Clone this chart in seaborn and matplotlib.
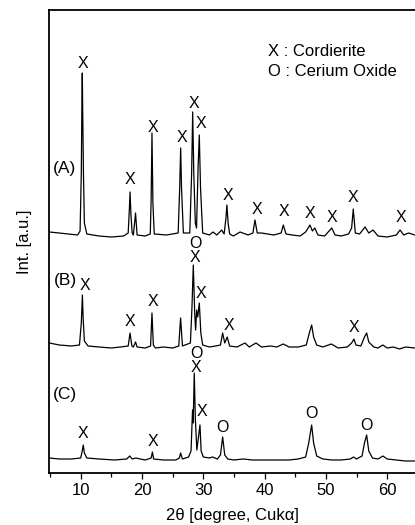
import matplotlib
matplotlib.use('Agg')
import matplotlib.pyplot as plt
from matplotlib.ticker import MultipleLocator
import pandas as pd
import seaborn as sns

# XRD traces: (2 theta in degree, intensity in a.u.)
# the three samples are already stacked with their offsets
pattern_a = [(4.9, 241), (6.5, 240), (8.0, 239), (9.5, 238), (9.9, 242), (10.1, 300),
             (10.2, 370), (10.26, 400), (10.33, 360), (10.45, 300), (10.6, 250), (11.0, 239),
             (13.0, 237), (15.0, 236), (17.0, 237), (17.75, 240), (17.95, 265), (18.05, 281),
             (18.2, 258), (18.4, 240), (18.6, 238), (18.95, 260), (19.2, 238), (20.5, 237),
             (21.35, 239), (21.5, 275), (21.63, 340), (21.78, 270), (22.0, 239), (24.0, 238),
             (25.9, 240), (26.15, 285), (26.31, 325), (26.45, 285), (26.75, 240), (27.8, 240),
             (28.1, 300), (28.27, 361), (28.45, 300), (28.7, 250), (28.9, 245), (29.15, 305),
             (29.35, 338), (29.55, 285), (29.9, 240), (31.0, 238), (31.6, 241), (32.2, 238),
             (33.0, 243), (33.4, 239), (33.7, 255), (33.85, 268), (34.05, 250), (34.3, 239),
             (34.9, 237), (36.0, 241), (37.3, 238), (38.1, 240), (38.43, 253), (38.8, 240),
             (39.5, 240), (40.5, 239), (41.5, 238), (42.7, 240), (43.05, 248), (43.5, 239),
             (44.5, 238), (45.8, 237), (46.7, 241), (47.4, 248), (47.8, 242), (48.2, 245),
             (48.7, 238), (49.8, 237), (50.95, 245), (51.5, 238), (52.5, 237), (53.7, 239),
             (54.2, 245), (54.47, 264), (54.8, 240), (55.5, 239), (56.4, 246), (57.0, 240),
             (57.7, 243), (58.5, 237), (60.0, 236), (61.5, 238), (62.1, 243), (62.7, 238),
             (63.5, 240), (64.5, 238)]

pattern_b = [(4.9, 130), (6.5, 128), (8.5, 127), (9.8, 128), (10.1, 150), (10.28, 178),
             (10.4, 155), (10.6, 132), (11.2, 127), (13.0, 126), (15.0, 125), (16.5, 126),
             (17.75, 127), (18.05, 140), (18.35, 127), (18.6, 126), (18.95, 131), (19.2, 126),
             (20.5, 125), (21.4, 127), (21.63, 160), (21.85, 128), (22.2, 125), (23.5, 126),
             (25.0, 125), (26.0, 127), (26.3, 155), (26.6, 127), (27.9, 130), (28.15, 165),
             (28.37, 208), (28.6, 160), (28.75, 143), (28.92, 163), (29.1, 156), (29.35, 170),
             (29.6, 140), (29.9, 128), (31.0, 126), (32.0, 127), (32.8, 128), (33.16, 140),
             (33.5, 130), (33.9, 136), (34.3, 127), (35.5, 126), (36.8, 130), (37.5, 126),
             (38.6, 130), (39.5, 126), (41.0, 127), (42.0, 126), (43.05, 129), (44.0, 126),
             (45.5, 126), (46.8, 128), (47.3, 140), (47.68, 148), (48.0, 136), (48.5, 128),
             (49.5, 126), (50.9, 129), (52.0, 125), (53.5, 126), (54.2, 130), (54.58, 134),
             (54.9, 128), (55.7, 127), (56.3, 136), (56.65, 140), (57.0, 131), (57.8, 126),
             (58.5, 125), (59.3, 128), (60.0, 125), (61.0, 126), (62.0, 124), (63.0, 126),
             (64.5, 125)]

pattern_c = [(4.9, 15), (6.5, 14), (8.5, 14), (10.0, 15), (10.25, 22), (10.42, 28),
             (10.6, 20), (11.0, 15), (13.0, 14), (15.5, 13), (17.5, 14), (18.0, 17),
             (18.4, 14), (19.0, 15), (20.5, 13), (21.5, 15), (21.7, 21), (21.9, 14),
             (23.5, 13), (25.5, 13), (26.1, 15), (26.3, 20), (26.6, 14), (27.6, 16),
             (28.0, 22), (28.25, 63), (28.35, 50), (28.53, 100), (28.7, 55), (28.95, 23),
             (29.2, 35), (29.46, 48), (29.65, 22), (30.0, 16), (31.0, 15), (31.5, 16),
             (32.3, 14), (32.8, 18), (33.16, 36), (33.5, 18), (34.0, 14), (35.0, 13),
             (36.5, 14), (38.0, 13), (40.0, 13), (42.5, 13), (44.0, 13), (45.5, 14),
             (46.7, 16), (47.2, 30), (47.68, 48), (48.0, 30), (48.5, 17), (49.5, 14),
             (51.0, 13), (52.5, 13), (54.0, 14), (54.5, 16), (55.0, 14), (55.9, 17),
             (56.3, 30), (56.65, 38), (57.0, 22), (57.6, 15), (58.5, 14), (59.3, 17),
             (60.0, 14), (61.5, 13), (63.0, 12), (64.5, 12)]

# peak markers (2 theta, intensity, phase symbol)
marks_a = [(10.33, 410, 'X'), (18.04, 293, 'X'), (21.75, 346, 'X'), (26.48, 336, 'X'),
           (28.48, 370, 'X'), (29.58, 350, 'X'), (34.08, 277, 'X'), (38.71, 264, 'X'),
           (43.17, 261, 'X'), (47.41, 260, 'X'), (50.95, 255, 'X'), (54.47, 276, 'X'),
           (62.25, 255, 'X')]
marks_b = [(10.7, 188, 'X'), (18.04, 151, 'X'), (21.75, 171, 'X'), (28.65, 216, 'X'),
           (28.65, 230, 'O'), (29.62, 180, 'X'), (34.2, 147, 'X'), (54.59, 146, 'X')]
marks_c = [(10.42, 40, 'X'), (21.84, 31, 'X'), (28.81, 106, 'X'), (28.81, 120, 'O'),
           (29.74, 61, 'X'), (33.16, 46, 'O'), (47.68, 60, 'O'), (56.54, 48, 'O')]

sample_names = ['(A)', '(B)', '(C)']
sample_label_y = [305, 193, 78]
legend_lines = ['X : Cordierite', 'O : Cerium Oxide']

frames = []
for name, pat in zip(sample_names, [pattern_a, pattern_b, pattern_c]):
    df = pd.DataFrame(pat, columns=['two_theta', 'intensity'])
    df['sample'] = name
    frames.append(df)
data = pd.concat(frames, ignore_index=True)

sns.set_style('ticks')
plt.rcParams['font.family'] = ['Liberation Sans', 'DejaVu Sans']
plt.rcParams['text.color'] = 'black'
plt.rcParams['axes.labelcolor'] = 'black'
plt.rcParams['xtick.color'] = 'black'

fig = plt.figure(figsize=(4.15, 5.25), dpi=100)
ax = fig.add_axes([49 / 415, 52 / 525, 366 / 415, 463 / 525])

sns.lineplot(data=data, x='two_theta', y='intensity', hue='sample',
             units='sample', estimator=None, sort=False,
             palette=['black'] * 3, linewidth=0.9, legend=False, ax=ax)

for marks in [marks_a, marks_b, marks_c]:
    for tt, inten, sym in marks:
        ax.text(tt, inten, sym, ha='center', va='center', fontsize=11.5)

for name, yy in zip(sample_names, sample_label_y):
    ax.text(7.44, yy, name, ha='center', va='center', fontsize=12.5)

ax.text(0.599, 0.91, legend_lines[0], transform=ax.transAxes,
        ha='left', va='center', fontsize=12)
ax.text(0.599, 0.867, legend_lines[1], transform=ax.transAxes,
        ha='left', va='center', fontsize=12)

ax.set_xlim(4.83, 64.54)
ax.set_ylim(0, 463)
ax.xaxis.set_major_locator(MultipleLocator(10))
ax.xaxis.set_minor_locator(MultipleLocator(5))
ax.set_yticks([])
ax.tick_params(axis='x', which='major', direction='out', length=4.3, width=0.9,
               labelsize=12, pad=3)
ax.tick_params(axis='x', which='minor', direction='out', length=3, width=0.9)
for side in ['top', 'left', 'bottom']:
    ax.spines[side].set_visible(True)
    ax.spines[side].set_color('black')
    ax.spines[side].set_linewidth(1.3)
ax.spines['right'].set_visible(False)

ax.set_xlabel('2θ [degree, Cukα]', fontsize=12, labelpad=7)
ax.set_ylabel('Int. [a.u.]', fontsize=12, labelpad=12)

fig.savefig('out.png', dpi=100)
